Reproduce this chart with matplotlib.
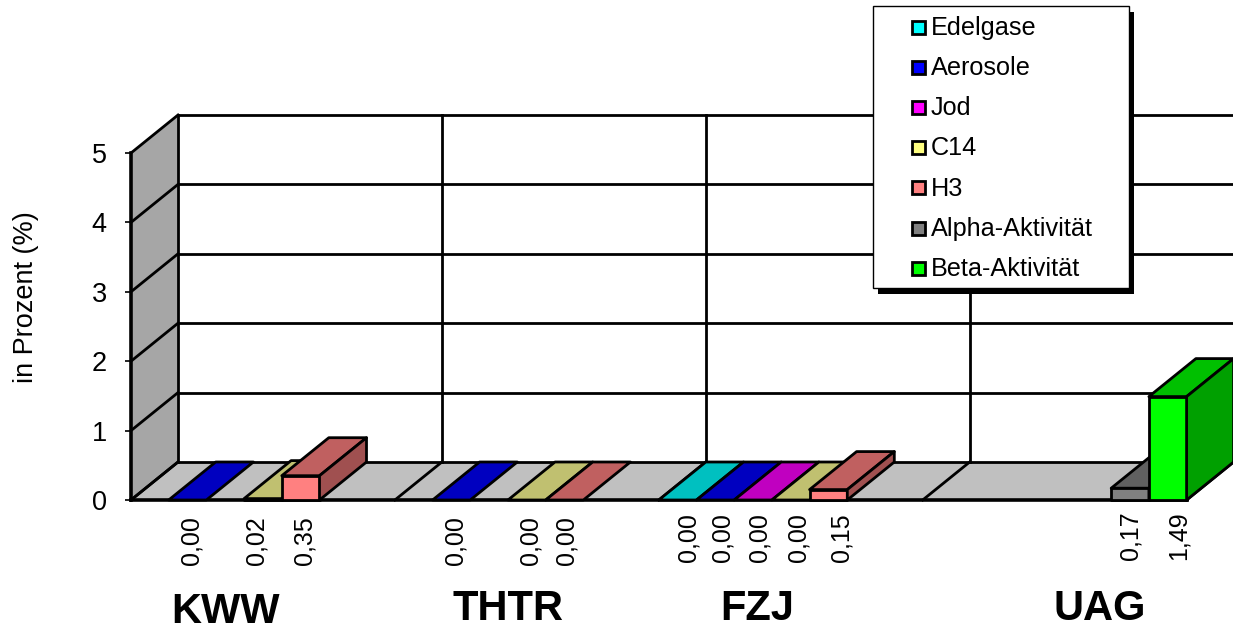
import matplotlib
matplotlib.use("Agg")
import matplotlib.pyplot as plt
from matplotlib.patches import Polygon, Rectangle
from matplotlib.transforms import Affine2D

plt.rcParams["font.family"] = ["Liberation Sans", "DejaVu Sans"]

W, H = 1233, 627

categories = ["KWW", "THTR", "FZJ", "UAG"]
series = ["Edelgase", "Aerosole", "Jod", "C14", "H3", "Alpha-Aktivität", "Beta-Aktivität"]

# None = no bar and no label for that site
edelgase = [None, None, 0.00, None]
aerosole = [0.00, 0.00, 0.00, None]
jod = [None, None, 0.00, None]
c14 = [0.02, 0.00, 0.00, None]
h3 = [0.35, 0.00, 0.15, None]
alpha = [None, None, None, 0.17]
beta = [None, None, None, 1.49]
values = [edelgase, aerosole, jod, c14, h3, alpha, beta]

# front, top, side
colors = [
    ("#00FFFF", "#00C0C0", "#00A0A0"),
    ("#0000FF", "#0000C0", "#0000A0"),
    ("#FF00FF", "#C000C0", "#A000A0"),
    ("#FFFF80", "#C0C070", "#A0A060"),
    ("#FF8080", "#C06060", "#A05050"),
    ("#808080", "#606060", "#505050"),
    ("#00FF00", "#00C000", "#00A000"),
]

# horizontal shift of the value labels from the slot centre, in slots
label_shift = [
    [0, 0.10, 0, -0.17, 0.10, 0, 0],
    [0, 0.10, 0, 0.10, 0.04, 0, 0],
    [0.28, 0.20, 0.18, 0.20, 0.34, 0, 0],
    [0, 0, 0, 0, 0, 0.02, 0.28],
]
label_base = [-0.94, -0.94, -0.90, -0.87]
name_shift = [-1.0, -0.5, -0.9, 1.2]
name_base = [-1.62, -1.57, -1.57, -1.57]

SLOT = 37.7
UNIT = 69.4
DX = 47 / SLOT
DY = 38 / UNIT
NSLOTS = 7
NCAT = len(categories)
XMAX = NCAT * NSLOTS
YMAX = 5
LW = 2

fig = plt.figure(figsize=(W / 100, H / 100), dpi=100)
ax = fig.add_axes([0, 0, 1, 1])
ax.set_xlim(-131 / SLOT, (W - 131) / SLOT)
ax.set_ylim((500 - H) / UNIT, 500 / UNIT)


def face(pts, color, z):
    ax.add_patch(Polygon(pts, closed=True, facecolor=color, edgecolor="black",
                         linewidth=LW, joinstyle="round", zorder=z))


# walls and floor
ax.add_patch(Polygon([(0, 0), (DX, DY), (DX, YMAX + DY), (0, YMAX)],
                     facecolor="#A6A6A6", edgecolor="none", zorder=1))
ax.add_patch(Polygon([(0, 0), (DX, DY), (XMAX + DX, DY), (XMAX, 0)],
                     facecolor="#C0C0C0", edgecolor="none", zorder=1))
for v in range(YMAX + 1):
    ax.plot([0, DX], [v, v + DY], color="black", lw=LW, zorder=2)
    ax.plot([DX, XMAX + DX], [v + DY, v + DY], color="black", lw=LW, zorder=2)
for c in range(NCAT + 1):
    ax.plot([c * NSLOTS, c * NSLOTS + DX], [0, DY], color="black", lw=LW, zorder=2)
    ax.plot([c * NSLOTS + DX] * 2, [DY, YMAX + DY], color="black", lw=LW, zorder=2)
ax.plot([0, XMAX], [0, 0], color="black", lw=2.6, zorder=2)

# bars, back to front and left to right
z = 3
for c in range(NCAT):
    for s in range(NSLOTS):
        v = values[s][c]
        if v is None:
            continue
        x0 = c * NSLOTS + s
        x1 = x0 + 1
        front, top, side = colors[s]
        face([(x0, v), (x0 + DX, v + DY), (x1 + DX, v + DY), (x1, v)], top, z)
        if v > 0:
            face([(x0, 0), (x1, 0), (x1, v), (x0, v)], front, z + 0.1)
            face([(x1, 0), (x1 + DX, DY), (x1 + DX, v + DY), (x1, v)], side, z + 0.1)
        z += 1
        ax.text(x0 + 0.5 + label_shift[c][s], label_base[c], f"{v:.2f}".replace(".", ","),
                rotation=90, ha="center", va="bottom", fontsize=18, color="black")

for c, name in enumerate(categories):
    ax.text((c + 0.5) * NSLOTS + name_shift[c], name_base[c], name, ha="center",
            va="center", fontsize=30, fontweight="bold", color="black")

# value axis
for sp in ["top", "right", "bottom"]:
    ax.spines[sp].set_visible(False)
ax.spines["left"].set_position(("data", 0))
ax.spines["left"].set_bounds(0, YMAX)
ax.spines["left"].set_linewidth(2.6)
ax.spines["left"].set_zorder(50)
ax.set_xticks([])
ax.set_yticks(range(YMAX + 1))
ax.tick_params(axis="y", length=4.5, width=1.2, pad=13, labelsize=19.5)
ax.set_ylabel("in Prozent (%)", fontsize=19.5)
ax.yaxis.set_label_coords(39 / W, 1 - 297 / H)

# legend box, placed in pixels
px = Affine2D().scale(1 / W, -1 / H).translate(0, 1) + fig.transFigure
ax.add_patch(Rectangle((878, 12), 256, 282, transform=px, facecolor="black",
                       edgecolor="none", zorder=100))
ax.add_patch(Rectangle((873, 6), 256, 282, transform=px, facecolor="white",
                       edgecolor="black", linewidth=1, zorder=101))
for i, name in enumerate(series):
    y = 27 + i * 40.2
    ax.add_patch(Rectangle((912, y - 6.5), 13, 13, transform=px, facecolor=colors[i][0],
                           edgecolor="black", linewidth=2, zorder=102))
    ax.text(930.5, y + 0.7, name, transform=px, fontsize=18.2, va="center", ha="left", zorder=102)

fig.savefig("out.png", dpi=100)
